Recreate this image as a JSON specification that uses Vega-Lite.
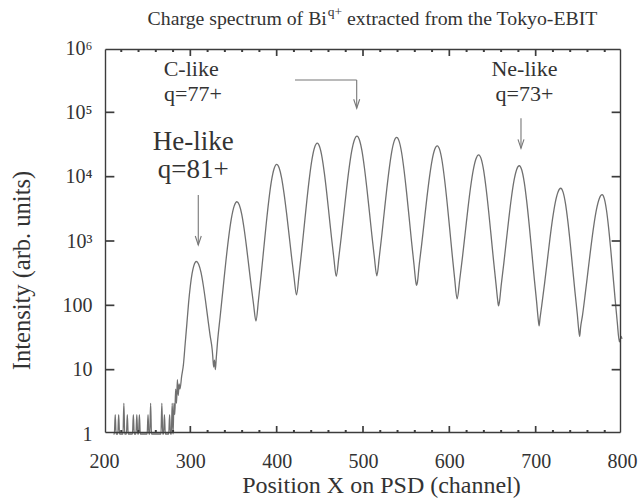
{
  "$schema": "https://vega.github.io/schema/vega-lite/v6.json",
  "width": 518,
  "height": 386,
  "autosize": {"type": "none"},
  "padding": {"left": 104, "top": 48, "right": 17, "bottom": 65},
  "background": "white",
  "config": {"view": {"stroke": null}, "font": "Liberation Serif"},
  "datasets": {
    "spectrum": [
      {"ch":211,"v":1},{"ch":212,"v":1},{"ch":213,"v":2},{"ch":214,"v":1},{"ch":216,"v":1},{"ch":217,"v":2},{"ch":218,"v":1},
      {"ch":222,"v":1},{"ch":223,"v":3},{"ch":224,"v":1},{"ch":226,"v":1},{"ch":227,"v":2},{"ch":228,"v":1},
      {"ch":233,"v":1},{"ch":234,"v":2},{"ch":235,"v":1},{"ch":237,"v":1},{"ch":238,"v":2},{"ch":239,"v":1},{"ch":240,"v":1},{"ch":241,"v":2},{"ch":242,"v":1},
      {"ch":250,"v":1},{"ch":251,"v":2},{"ch":252,"v":1},{"ch":253,"v":1},{"ch":254,"v":3},{"ch":255,"v":1},
      {"ch":266,"v":1},{"ch":267,"v":3},{"ch":268,"v":1},{"ch":269,"v":1},{"ch":270,"v":2},{"ch":271,"v":1},
      {"ch":275,"v":1},{"ch":276,"v":2},{"ch":277,"v":1},{"ch":278,"v":1},{"ch":279,"v":3},{"ch":280,"v":1},
      {"ch":281,"v":3},{"ch":282,"v":2},{"ch":283,"v":5},{"ch":284,"v":3},{"ch":285,"v":7},{"ch":286,"v":4},{"ch":287,"v":6},{"ch":288,"v":5},
      {"ch":290,"v":8},{"ch":292,"v":12},{"ch":294,"v":25},{"ch":296,"v":52},{"ch":298,"v":110},{"ch":300,"v":200},{"ch":302,"v":310},{"ch":304,"v":410},{"ch":307,"v":480},
      {"ch":309.6,"v":434},{"ch":312.3,"v":327},{"ch":314.9,"v":209},{"ch":317.5,"v":120},{"ch":320.1,"v":65},{"ch":322.75,"v":35},{"ch":325.4,"v":20},
      {"ch":326,"v":16},{"ch":327,"v":11},{"ch":328,"v":14},{"ch":329,"v":10},{"ch":330,"v":15},{"ch":331.5,"v":27},
      {"ch":334.5,"v":66},{"ch":337.75,"v":174},{"ch":341,"v":459},{"ch":344.25,"v":1099},{"ch":347.5,"v":2223},{"ch":350.75,"v":3483},{"ch":354,"v":4074},
      {"ch":356.75,"v":3631},{"ch":359.5,"v":2618},{"ch":362.25,"v":1563},{"ch":365,"v":824},{"ch":367.75,"v":406},{"ch":370.5,"v":200},{"ch":373.25,"v":103},{"ch":376,"v":57},
      {"ch":379,"v":123},{"ch":382,"v":295},{"ch":385,"v":750},{"ch":388,"v":1901},{"ch":391,"v":4397},{"ch":394,"v":8650},{"ch":397,"v":13300},{"ch":400,"v":15490},
      {"ch":402.9,"v":13650},{"ch":405.75,"v":9530},{"ch":408.6,"v":5410},{"ch":411.5,"v":2685},{"ch":414.4,"v":1236},{"ch":417.25,"v":566},{"ch":420.1,"v":273},{"ch":423,"v":145},
      {"ch":426,"v":303},{"ch":429,"v":706},{"ch":432,"v":1750},{"ch":435,"v":4315},{"ch":438,"v":9750},{"ch":441,"v":18840},{"ch":444,"v":28580},{"ch":447,"v":33110},
      {"ch":449.75,"v":29110},{"ch":452.5,"v":20180},{"ch":455.25,"v":11320},{"ch":458,"v":5546},{"ch":460.75,"v":2512},{"ch":463.5,"v":1132},{"ch":466.25,"v":540},{"ch":469,"v":282},
      {"ch":472,"v":557},{"ch":475,"v":1222},{"ch":478,"v":2825},{"ch":481,"v":6494},{"ch":484,"v":13790},{"ch":487,"v":25300},{"ch":490,"v":37240},{"ch":493,"v":42660},
      {"ch":495.9,"v":37240},{"ch":498.75,"v":25350},{"ch":501.6,"v":13870},{"ch":504.5,"v":6546},{"ch":507.4,"v":2858},{"ch":510.25,"v":1241},{"ch":513.1,"v":569},{"ch":516,"v":288},
      {"ch":518.9,"v":565},{"ch":521.75,"v":1224},{"ch":524.6,"v":2800},{"ch":527.5,"v":6368},{"ch":530.4,"v":13370},{"ch":533.25,"v":24320},{"ch":536.1,"v":35650},{"ch":539,"v":40740},
      {"ch":541.9,"v":35320},{"ch":544.75,"v":23550},{"ch":547.6,"v":12450},{"ch":550.5,"v":5636},{"ch":553.4,"v":2350},{"ch":556.25,"v":975},{"ch":559.1,"v":428},{"ch":561,"v":240},{"ch":562,"v":205},{"ch":563,"v":226},
      {"ch":565,"v":411},{"ch":568,"v":893},{"ch":571,"v":2046},{"ch":574,"v":4677},{"ch":577,"v":9860},{"ch":580,"v":17990},{"ch":583,"v":26420},{"ch":586,"v":30200},
      {"ch":588.9,"v":26060},{"ch":591.75,"v":17060},{"ch":594.6,"v":8790},{"ch":597.5,"v":3868},{"ch":600.4,"v":1556},{"ch":603.25,"v":624},{"ch":606.1,"v":265},{"ch":609,"v":126},
      {"ch":612.1,"v":254},{"ch":615.25,"v":568},{"ch":618.4,"v":1343},{"ch":621.5,"v":3162},{"ch":624.6,"v":6855},{"ch":627.75,"v":12790},{"ch":630.9,"v":19050},{"ch":634,"v":21880},
      {"ch":636.9,"v":18920},{"ch":639.75,"v":12530},{"ch":642.6,"v":6546},{"ch":645.5,"v":2924},{"ch":648.4,"v":1199},{"ch":651.25,"v":490},{"ch":654.1,"v":212},{"ch":656,"v":120},{"ch":657,"v":98},{"ch":658,"v":112},
      {"ch":660,"v":201},{"ch":663,"v":438},{"ch":666,"v":1002},{"ch":669,"v":2291},{"ch":672,"v":4831},{"ch":675,"v":8810},{"ch":678,"v":12940},{"ch":681,"v":14790},
      {"ch":683.9,"v":12700},{"ch":686.75,"v":8222},{"ch":689.6,"v":4159},{"ch":692.5,"v":1782},{"ch":695.4,"v":700},{"ch":698.25,"v":272},{"ch":701.1,"v":113},{"ch":703,"v":60},{"ch":704,"v":48},{"ch":705,"v":62},
      {"ch":707.1,"v":101},{"ch":710.25,"v":215},{"ch":713.4,"v":483},{"ch":716.5,"v":1078},{"ch":719.6,"v":2226},{"ch":722.75,"v":3999},{"ch":725.9,"v":5794},{"ch":729,"v":6607},
      {"ch":731.75,"v":5741},{"ch":734.5,"v":3837},{"ch":737.25,"v":2037},{"ch":740,"v":931},{"ch":742.75,"v":391},{"ch":745.5,"v":163},{"ch":748.25,"v":72},{"ch":750,"v":40},{"ch":751,"v":33},{"ch":752,"v":45},
      {"ch":754.25,"v":70},{"ch":757.5,"v":153},{"ch":760.75,"v":352},{"ch":764,"v":805},{"ch":767.25,"v":1706},{"ch":770.5,"v":3119},{"ch":773.75,"v":4581},{"ch":777,"v":5248},
      {"ch":779.5,"v":4550},{"ch":782,"v":3034},{"ch":784.5,"v":1603},{"ch":787,"v":726},{"ch":789.5,"v":303},{"ch":792,"v":126},{"ch":794.5,"v":55},{"ch":797,"v":27},{"ch":799,"v":33},{"ch":800,"v":30}
    ],
    "labels": [
      {"x":303.4,"y":34990,"t":"He-like","kind":"big"},
      {"x":303.4,"y":12700,"t":"q=81+","kind":"big"},
      {"x":301,"y":466700,"t":"C-like","kind":"mid"},
      {"x":303,"y":192800,"t":"q=77+","kind":"mid"},
      {"x":687,"y":466700,"t":"Ne-like","kind":"mid"},
      {"x":687,"y":192800,"t":"q=73+","kind":"mid"},
      {"x":458.1,"y":2830000,"t":"Charge spectrum of Bi","kind":"titleL"},
      {"x":459.3,"y":3630000,"t":"q+","kind":"sup"},
      {"x":481.5,"y":2830000,"t":"extracted from the Tokyo-EBIT","kind":"titleR"}
    ],
    "lines": [
      {"x":309.2,"y":5190,"x2":309.2,"y2":867,"g":"arrow"},
      {"x":421.2,"y":318000,"x2":492.7,"y2":318000,"g":"arrow"},
      {"x":492.7,"y":318000,"x2":492.7,"y2":115600,"g":"arrow"},
      {"x":683,"y":80800,"x2":683,"y2":27600,"g":"arrow"},
      {"x":201.74,"x2":798.26,"y":1.0551,"y2":1.0551,"g":"frame"},
      {"x":201.74,"x2":798.26,"y":947800,"y2":947800,"g":"frame"},
      {"x":201.74,"x2":201.74,"y":1.0551,"y2":947800,"g":"frame"},
      {"x":798.26,"x2":798.26,"y":1.0551,"y2":947800,"g":"frame"},
      {"x":300,"x2":300,"y":1.0551,"y2":1.331,"g":"major"},{"x":400,"x2":400,"y":1.0551,"y2":1.331,"g":"major"},{"x":500,"x2":500,"y":1.0551,"y2":1.331,"g":"major"},
      {"x":600,"x2":600,"y":1.0551,"y2":1.331,"g":"major"},{"x":700,"x2":700,"y":1.0551,"y2":1.331,"g":"major"},
      {"x":300,"x2":300,"y":751000,"y2":947800,"g":"major"},{"x":400,"x2":400,"y":751000,"y2":947800,"g":"major"},{"x":500,"x2":500,"y":751000,"y2":947800,"g":"major"},
      {"x":600,"x2":600,"y":751000,"y2":947800,"g":"major"},{"x":700,"x2":700,"y":751000,"y2":947800,"g":"major"},
      {"x":201.74,"x2":212,"y":10,"y2":10,"g":"major"},{"x":201.74,"x2":212,"y":100,"y2":100,"g":"major"},{"x":201.74,"x2":212,"y":1000,"y2":1000,"g":"major"},
      {"x":201.74,"x2":212,"y":10000,"y2":10000,"g":"major"},{"x":201.74,"x2":212,"y":100000,"y2":100000,"g":"major"},
      {"x":788,"x2":798.26,"y":10,"y2":10,"g":"major"},{"x":788,"x2":798.26,"y":100,"y2":100,"g":"major"},{"x":788,"x2":798.26,"y":1000,"y2":1000,"g":"major"},
      {"x":788,"x2":798.26,"y":10000,"y2":10000,"g":"major"},{"x":788,"x2":798.26,"y":100000,"y2":100000,"g":"major"},
      {"x":220,"x2":220,"y":1.0551,"y2":1.154,"g":"minor"},{"x":240,"x2":240,"y":1.0551,"y2":1.154,"g":"minor"},{"x":260,"x2":260,"y":1.0551,"y2":1.154,"g":"minor"},{"x":280,"x2":280,"y":1.0551,"y2":1.154,"g":"minor"},
      {"x":320,"x2":320,"y":1.0551,"y2":1.154,"g":"minor"},{"x":340,"x2":340,"y":1.0551,"y2":1.154,"g":"minor"},{"x":360,"x2":360,"y":1.0551,"y2":1.154,"g":"minor"},{"x":380,"x2":380,"y":1.0551,"y2":1.154,"g":"minor"},
      {"x":420,"x2":420,"y":1.0551,"y2":1.154,"g":"minor"},{"x":440,"x2":440,"y":1.0551,"y2":1.154,"g":"minor"},{"x":460,"x2":460,"y":1.0551,"y2":1.154,"g":"minor"},{"x":480,"x2":480,"y":1.0551,"y2":1.154,"g":"minor"},
      {"x":520,"x2":520,"y":1.0551,"y2":1.154,"g":"minor"},{"x":540,"x2":540,"y":1.0551,"y2":1.154,"g":"minor"},{"x":560,"x2":560,"y":1.0551,"y2":1.154,"g":"minor"},{"x":580,"x2":580,"y":1.0551,"y2":1.154,"g":"minor"},
      {"x":620,"x2":620,"y":1.0551,"y2":1.154,"g":"minor"},{"x":640,"x2":640,"y":1.0551,"y2":1.154,"g":"minor"},{"x":660,"x2":660,"y":1.0551,"y2":1.154,"g":"minor"},{"x":680,"x2":680,"y":1.0551,"y2":1.154,"g":"minor"},
      {"x":720,"x2":720,"y":1.0551,"y2":1.154,"g":"minor"},{"x":740,"x2":740,"y":1.0551,"y2":1.154,"g":"minor"},{"x":760,"x2":760,"y":1.0551,"y2":1.154,"g":"minor"},{"x":780,"x2":780,"y":1.0551,"y2":1.154,"g":"minor"},
      {"x":220,"x2":220,"y":866000,"y2":947800,"g":"minor"},{"x":240,"x2":240,"y":866000,"y2":947800,"g":"minor"},{"x":260,"x2":260,"y":866000,"y2":947800,"g":"minor"},{"x":280,"x2":280,"y":866000,"y2":947800,"g":"minor"},
      {"x":320,"x2":320,"y":866000,"y2":947800,"g":"minor"},{"x":340,"x2":340,"y":866000,"y2":947800,"g":"minor"},{"x":360,"x2":360,"y":866000,"y2":947800,"g":"minor"},{"x":380,"x2":380,"y":866000,"y2":947800,"g":"minor"},
      {"x":420,"x2":420,"y":866000,"y2":947800,"g":"minor"},{"x":440,"x2":440,"y":866000,"y2":947800,"g":"minor"},{"x":460,"x2":460,"y":866000,"y2":947800,"g":"minor"},{"x":480,"x2":480,"y":866000,"y2":947800,"g":"minor"},
      {"x":520,"x2":520,"y":866000,"y2":947800,"g":"minor"},{"x":540,"x2":540,"y":866000,"y2":947800,"g":"minor"},{"x":560,"x2":560,"y":866000,"y2":947800,"g":"minor"},{"x":580,"x2":580,"y":866000,"y2":947800,"g":"minor"},
      {"x":620,"x2":620,"y":866000,"y2":947800,"g":"minor"},{"x":640,"x2":640,"y":866000,"y2":947800,"g":"minor"},{"x":660,"x2":660,"y":866000,"y2":947800,"g":"minor"},{"x":680,"x2":680,"y":866000,"y2":947800,"g":"minor"},
      {"x":720,"x2":720,"y":866000,"y2":947800,"g":"minor"},{"x":740,"x2":740,"y":866000,"y2":947800,"g":"minor"},{"x":760,"x2":760,"y":866000,"y2":947800,"g":"minor"},{"x":780,"x2":780,"y":866000,"y2":947800,"g":"minor"}
    ],
    "heads": [
      {"x":309.2,"y":867},
      {"x":492.7,"y":115600},
      {"x":683,"y":27600}
    ]
  },
  "layer": [
    {
      "data": {"name": "spectrum"},
      "mark": {"type": "line", "color": "#707070", "strokeWidth": 1.3, "interpolate": "monotone"},
      "encoding": {
        "x": {"field": "ch", "type": "quantitative",
          "scale": {"domain": [200, 800], "nice": false, "zero": false},
          "axis": {"orient": "bottom", "values": [200,300,400,500,600,700,800], "ticks": false, "tickSize": 0,
            "domain": false, "grid": false,
            "labelFont": "Liberation Serif", "labelFontSize": 20, "labelColor": "#333",
            "labelPadding": 17, "labelFlush": false, "labelOverlap": false,
            "title": "Position X on PSD (channel)", "titleFont": "Liberation Serif", "titleFontSize": 24, "titleFontWeight": "normal",
            "titleColor": "#333", "titleX": 277, "titleY": 51, "titleBaseline": "middle", "titleAlign": "center"}},
        "y": {"field": "v", "type": "quantitative",
          "scale": {"type": "log", "domain": [1, 1000000], "nice": false},
          "axis": {"orient": "left", "values": [1,10,100,1000,10000,100000,1000000],
            "labelExpr": "datum.value == 1000 ? '10³' : datum.value == 10000 ? '10⁴' : datum.value == 100000 ? '10⁵' : datum.value == 1000000 ? '10⁶' : format(datum.value, 'd')",
            "ticks": false, "tickSize": 0, "domain": false, "grid": false,
            "labelFont": "Liberation Serif", "labelFontSize": 20, "labelColor": "#333", "labelPadding": 12,
            "labelFlush": false, "labelOverlap": false,
            "title": "Intensity (arb. units)", "titleFont": "Liberation Serif", "titleFontSize": 24.5, "titleFontWeight": "normal",
            "titleColor": "#333", "titleX": -82, "titleY": 222, "titleBaseline": "middle", "titleAlign": "center", "titleAngle": -90}}
      }
    },
    {
      "data": {"name": "lines"},
      "mark": {"type": "rule"},
      "encoding": {
        "x": {"field": "x", "type": "quantitative", "axis": null},
        "x2": {"field": "x2"},
        "y": {"field": "y", "type": "quantitative", "axis": null},
        "y2": {"field": "y2"},
        "color": {"field": "g", "type": "nominal", "legend": null,
          "scale": {"domain": ["arrow", "frame", "major", "minor"], "range": ["#777777", "#3c3c3c", "#3c3c3c", "#3c3c3c"]}},
        "strokeWidth": {"field": "g", "type": "nominal", "legend": null,
          "scale": {"domain": ["arrow", "frame", "major", "minor"], "range": [1.1, 2, 1.5, 1.3]}}
      }
    },
    {
      "data": {"name": "heads"},
      "mark": {"type": "point", "shape": "M-1.5,-4.5L0,0L1.5,-4.5", "size": 16, "filled": false, "color": "#777", "strokeWidth": 1.1, "opacity": 1},
      "encoding": {
        "x": {"field": "x", "type": "quantitative", "axis": null},
        "y": {"field": "y", "type": "quantitative", "axis": null}
      }
    },
    {
      "data": {"name": "labels"},
      "transform": [{"filter": "datum.kind == 'big'"}],
      "mark": {"type": "text", "fontSize": 27, "font": "Liberation Serif", "color": "#333", "align": "center", "baseline": "middle"},
      "encoding": {
        "x": {"field": "x", "type": "quantitative", "axis": null},
        "y": {"field": "y", "type": "quantitative", "axis": null},
        "text": {"field": "t"}
      }
    },
    {
      "data": {"name": "labels"},
      "transform": [{"filter": "datum.kind == 'mid'"}],
      "mark": {"type": "text", "fontSize": 22, "font": "Liberation Serif", "color": "#333", "align": "center", "baseline": "middle"},
      "encoding": {
        "x": {"field": "x", "type": "quantitative", "axis": null},
        "y": {"field": "y", "type": "quantitative", "axis": null},
        "text": {"field": "t"}
      }
    },
    {
      "data": {"name": "labels"},
      "transform": [{"filter": "datum.kind == 'titleL'"}],
      "mark": {"type": "text", "fontSize": 19.8, "font": "Liberation Serif", "color": "#333", "align": "right", "baseline": "middle"},
      "encoding": {
        "x": {"field": "x", "type": "quantitative", "axis": null},
        "y": {"field": "y", "type": "quantitative", "axis": null},
        "text": {"field": "t"}
      }
    },
    {
      "data": {"name": "labels"},
      "transform": [{"filter": "datum.kind == 'sup'"}],
      "mark": {"type": "text", "fontSize": 13.5, "font": "Liberation Serif", "color": "#333", "align": "left", "baseline": "middle"},
      "encoding": {
        "x": {"field": "x", "type": "quantitative", "axis": null},
        "y": {"field": "y", "type": "quantitative", "axis": null},
        "text": {"field": "t"}
      }
    },
    {
      "data": {"name": "labels"},
      "transform": [{"filter": "datum.kind == 'titleR'"}],
      "mark": {"type": "text", "fontSize": 19.8, "font": "Liberation Serif", "color": "#333", "align": "left", "baseline": "middle"},
      "encoding": {
        "x": {"field": "x", "type": "quantitative", "axis": null},
        "y": {"field": "y", "type": "quantitative", "axis": null},
        "text": {"field": "t"}
      }
    }
  ],
  "resolve": {"axis": {"x": "independent", "y": "independent"}}
}
